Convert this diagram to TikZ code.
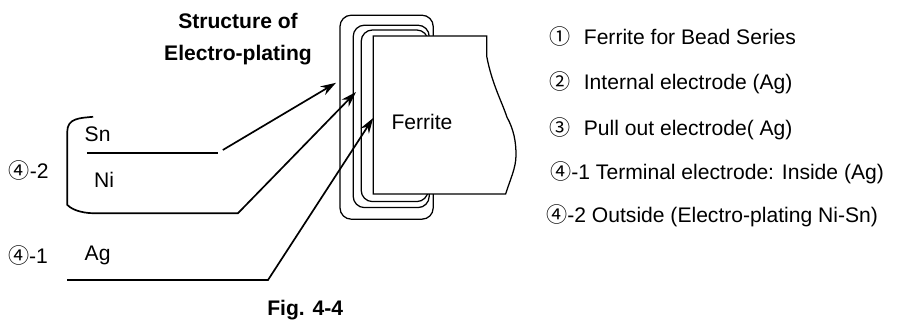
\documentclass[tikz,border=0pt]{standalone}
\usepackage{fontspec}
\setmainfont{Liberation Sans}
\newfontfamily\cjk{Noto Sans CJK SC}
\usetikzlibrary{arrows.meta}
\tikzset{
  every node/.style={font=\fontsize{15}{18}\selectfont, inner sep=0pt},
  wire/.style={black, line width=1.2pt},
  pointer/.style={wire, -{Stealth[length=11pt,width=7pt]}},
  layer/.style={black, line width=0.9pt, fill=white, rounded corners=8pt},
  label/.style={anchor=base},
  caption/.style={anchor=base west},
  heading/.style={anchor=base, font=\fontsize{15}{18}\selectfont\bfseries}
}
\newcommand{\circnum}[1]{{\cjk #1}}
\begin{document}
\begin{tikzpicture}
\useasboundingbox (0,0) rectangle (22.55,8);
% plated layers
\draw [layer] (8.5,2.52) rectangle (10.83,7.62);
\draw [layer] (8.83,2.81) rectangle (10.73,7.37);
\draw [layer] (9.03,2.96) rectangle (10.7,7.25);
\draw [black, line width=0.9pt, fill=white] (9.33,3.15) -- (9.33,7.1) -- (12.17,7.1) -- (12.17,6.58)
  .. controls (12.3,5.9) and (12.55,5.45) .. (12.67,5.08) .. controls (12.85,4.75) and (12.9,4.45) .. (12.9,4.12)
  .. controls (12.9,3.8) and (12.75,3.5) .. (12.64,3.15) -- cycle;
\node [label] (ferrite) at (10.55,4.75) {Ferrite};

\node [heading] (titleA) at (5.95,7.275) {Structure of};
\node [heading] (titleB) at (5.95,6.475) {Electro-plating};
\node [heading] (fig) at (7.63,0.1) {Fig. 4-4};

% layer names
\node [label] (sn) at (2.44,4.46) {Sn};
\node [label] (ni) at (2.6,3.3) {Ni};
\node [label] (ag) at (2.44,1.48) {Ag};
\node [label] (outside) at (0.72,3.525) {\circnum{④}-2};
\node [label] (inside) at (0.7,1.4) {\circnum{④}-1};

% lead lines
\coordinate (snL) at (2.17,4.17);
\coordinate (snR) at (5.45,4.17);
\coordinate (snS) at (5.57,4.25);
\coordinate (snE) at (8.4,5.93);
\coordinate (niT) at (2.33,5.08);
\coordinate (niB) at (5.95,2.67);
\coordinate (niE) at (8.9,5.7);
\coordinate (agL) at (1.68,1);
\coordinate (agB) at (6.7,1);
\coordinate (agE) at (9.33,5.05);
\draw [wire] (snL) -- (snR);
\draw [pointer] (snS) -- (snE);
\draw [pointer] (niT) .. controls (2,5.05) and (1.68,5.05) .. (1.68,4.7) -- (1.68,2.88)
  .. controls (1.85,2.7) and (2.2,2.67) .. (2.33,2.67) -- (niB) -- (niE);
\draw [pointer] (agL) -- (agB) -- (agE);

% legend
\node [caption] (itemA) at (13.72,6.875) {\circnum{①}\hspace{0.65em}Ferrite for Bead Series};
\node [caption] (itemB) at (13.72,5.75) {\circnum{②}\hspace{0.65em}Internal electrode (Ag)};
\node [caption] (itemC) at (13.72,4.6) {\circnum{③}\hspace{0.65em}Pull out electrode( Ag)};
\node [caption] (itemD) at (13.75,3.5) {\circnum{④}-1 Terminal electrode: Inside (Ag)};
\node [caption] (itemE) at (13.65,2.43) {\circnum{④}-2 Outside (Electro-plating Ni-Sn)};
\end{tikzpicture}
\end{document}
